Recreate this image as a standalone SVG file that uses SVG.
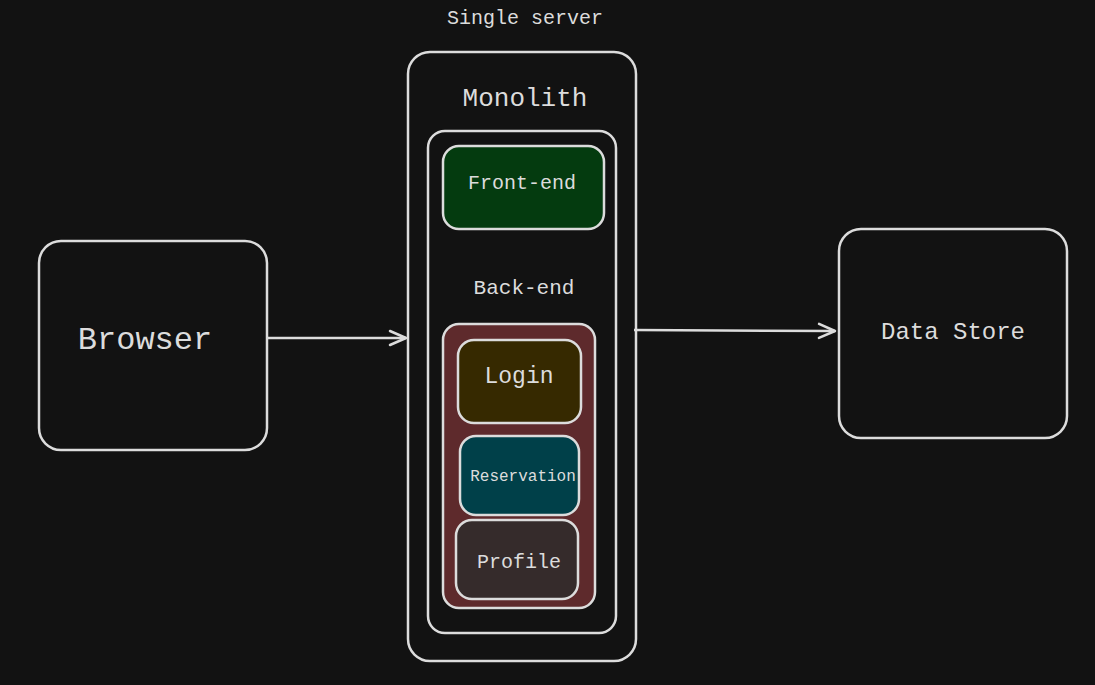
<svg xmlns="http://www.w3.org/2000/svg" width="1095" height="685" viewBox="0 0 1095 685">
<defs>
<style>
.box{stroke:#dcdcdc;stroke-width:2.5}
.t{font-family:"Liberation Mono","DejaVu Sans Mono",monospace;fill:#dcdcdc;text-anchor:middle;dominant-baseline:central}
.c{stroke:#dcdcdc;stroke-width:2.5;fill:none}
</style>
<marker id="ah" viewBox="0 0 20 20" refX="18" refY="10" markerWidth="20" markerHeight="20" markerUnits="userSpaceOnUse" orient="auto">
<path d="M2,3 L18,10 L2,17" fill="none" stroke="#dcdcdc" stroke-width="2.5" stroke-linecap="round" stroke-linejoin="round"/>
</marker>
</defs>
<rect width="1095" height="685" fill="#121212"/>
<text class="t" x="525" y="18" font-size="20">Single server</text>
<g id="browser">
<rect class="box" x="39" y="241" width="228" height="209" rx="22" fill="none"/>
<text class="t" x="145" y="340" font-size="32">Browser</text>
</g>
<g id="server">
<rect class="box" x="408" y="52" width="228" height="609" rx="22" fill="none"/>
<text class="t" x="525" y="99" font-size="26">Monolith</text>
</g>
<g id="monolith">
<rect class="box" x="428" y="131" width="188" height="502" rx="17" fill="none"/>
<text class="t" x="524" y="288" font-size="21">Back-end</text>
</g>
<g id="frontend">
<rect class="box" x="443" y="146" width="161" height="83" rx="16" fill="#043b0f"/>
<text class="t" x="522" y="183" font-size="20">Front-end</text>
</g>
<g id="backend">
<rect class="box" x="443" y="324" width="152" height="284" rx="16" fill="#5e2a2c"/>
</g>
<g id="login">
<rect class="box" x="458" y="340" width="123" height="83" rx="16" fill="#362900"/>
<text class="t" x="519" y="377" font-size="23">Login</text>
</g>
<g id="reservation">
<rect class="box" x="460" y="436" width="119" height="79" rx="16" fill="#004049"/>
<text class="t" x="523" y="477" font-size="16">Reservation</text>
</g>
<g id="profile">
<rect class="box" x="456" y="520" width="122" height="79" rx="16" fill="#352b2b"/>
<text class="t" x="519" y="562" font-size="20">Profile</text>
</g>
<g id="datastore">
<rect class="box" x="839" y="229" width="228" height="209" rx="22" fill="none"/>
<text class="t" x="953" y="332" font-size="24">Data Store</text>
</g>
<g id="connectors">
<path class="c" d="M267,338 L406,338" marker-end="url(#ah)"/>
<path class="c" d="M634,330 L835,331" marker-end="url(#ah)"/>
</g>
</svg>
